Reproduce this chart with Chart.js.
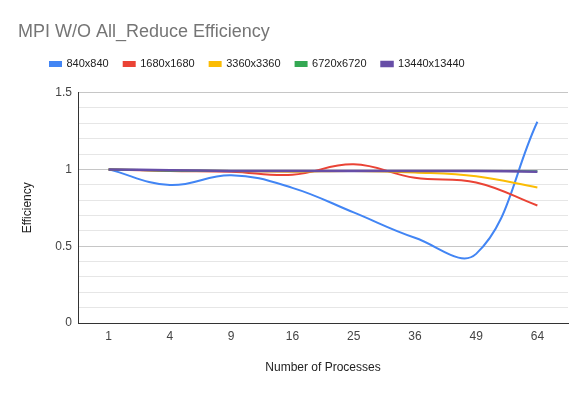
<!DOCTYPE html>
<html>
<head>
<meta charset="utf-8">
<script src="https://cdn.jsdelivr.net/npm/chart.js@4/dist/chart.umd.min.js"></script>
<style>
  html, body { margin: 0; padding: 0; background: #fff; }
</style>
</head>
<body>
<div style="position: relative; width: 588px; height: 395px;">
  <canvas id="chart" width="588" height="395"></canvas>
</div>
<script>
// values
const processes = ["1", "4", "9", "16", "25", "36", "49", "64"];
const eff840 = [1.0, 0.898, 0.962, 0.88, 0.72, 0.555, 0.45, 1.31];
const eff1680 = [1.0, 0.99, 0.985, 0.965, 1.033, 0.945, 0.915, 0.765];
const eff3360 = [1.0, 0.993, 0.99, 0.985, 0.99, 0.98, 0.955, 0.882];
const eff6720 = [1.0, 0.992, 0.99, 0.99, 0.99, 0.99, 0.99, 0.988];
const eff13440 = [1.0, 0.995, 0.99, 0.99, 0.99, 0.99, 0.99, 0.985];

const isMajor = v => Math.abs(v * 2 - Math.round(v * 2)) < 1e-6;

// move the legend to where the reference has it
const legendShift = {
  id: "legendShift",
  afterLayout(chart) {
    chart.legend.left += 17;
    chart.legend.top -= 13;
  }
};

const makeSet = (label, data, color, width, order) => ({
  label: label,
  data: data,
  borderColor: color,
  backgroundColor: color,
  borderWidth: width,
  pointRadius: 0,
  tension: 0.4,
  order: order,
});

const ctx = document.getElementById("chart").getContext("2d");
new Chart(ctx, {
  type: "line",
  data: {
    labels: processes,
    datasets: [
      makeSet("840x840", eff840, "#4285F4", 2, 5),
      makeSet("1680x1680", eff1680, "#EA4335", 2, 4),
      makeSet("3360x3360", eff3360, "#FBBC04", 2, 3),
      makeSet("6720x6720", eff6720, "#34A853", 2, 2),
      makeSet("13440x13440", eff13440, "#674EA7", 2.5, 1),
    ],
  },
  plugins: [legendShift],
  options: {
    responsive: false,
    animation: false,
    layout: { padding: { left: 18, right: 20, top: 0, bottom: 0 } },
    plugins: {
      title: {
        display: true,
        text: "MPI W/O All_Reduce Efficiency",
        align: "start",
        color: "#757575",
        font: { family: "Liberation Sans, Arial", size: 18, weight: "normal" },
        padding: { top: 21, bottom: 14 },
      },
      legend: {
        align: "start",
        labels: {
          boxWidth: 11,
          boxHeight: 4,
          padding: 15,
          color: "#222",
          font: { family: "Liberation Sans, Arial", size: 11 },
          sort: (a, b) => a.datasetIndex - b.datasetIndex,
        },
      },
      tooltip: { enabled: false },
    },
    scales: {
      x: {
        offset: true,
        grid: { display: false, drawTicks: false, offset: true },
        border: { color: "#333", width: 1 },
        ticks: {
          color: "#444",
          padding: 6,
          font: { family: "Liberation Sans, Arial", size: 12 },
        },
        title: {
          display: true,
          text: "Number of Processes",
          color: "#222",
          font: { family: "Liberation Sans, Arial", size: 12 },
          padding: { top: 0, bottom: 20 },
        },
        afterFit: s => { s.height = 72; },
      },
      y: {
        min: 0,
        max: 1.5,
        grid: {
          drawTicks: false,
          color: c => (isMajor(c.tick.value) ? "#c6c6c6" : "#e6e6e6"),
        },
        border: { color: "#333", width: 1 },
        ticks: {
          stepSize: 0.1,
          autoSkip: false,
          color: "#444",
          padding: 6,
          font: { family: "Liberation Sans, Arial", size: 12 },
          callback: v => (isMajor(v) ? String(Math.round(v * 2) / 2) : ""),
        },
        title: {
          display: true,
          text: "Efficiency",
          color: "#222",
          font: { family: "Liberation Sans, Arial", size: 12 },
          padding: { top: 2, bottom: 0 },
        },
        afterFit: s => { s.width = 60; },
      },
    },
  },
});
</script>
</body>
</html>
